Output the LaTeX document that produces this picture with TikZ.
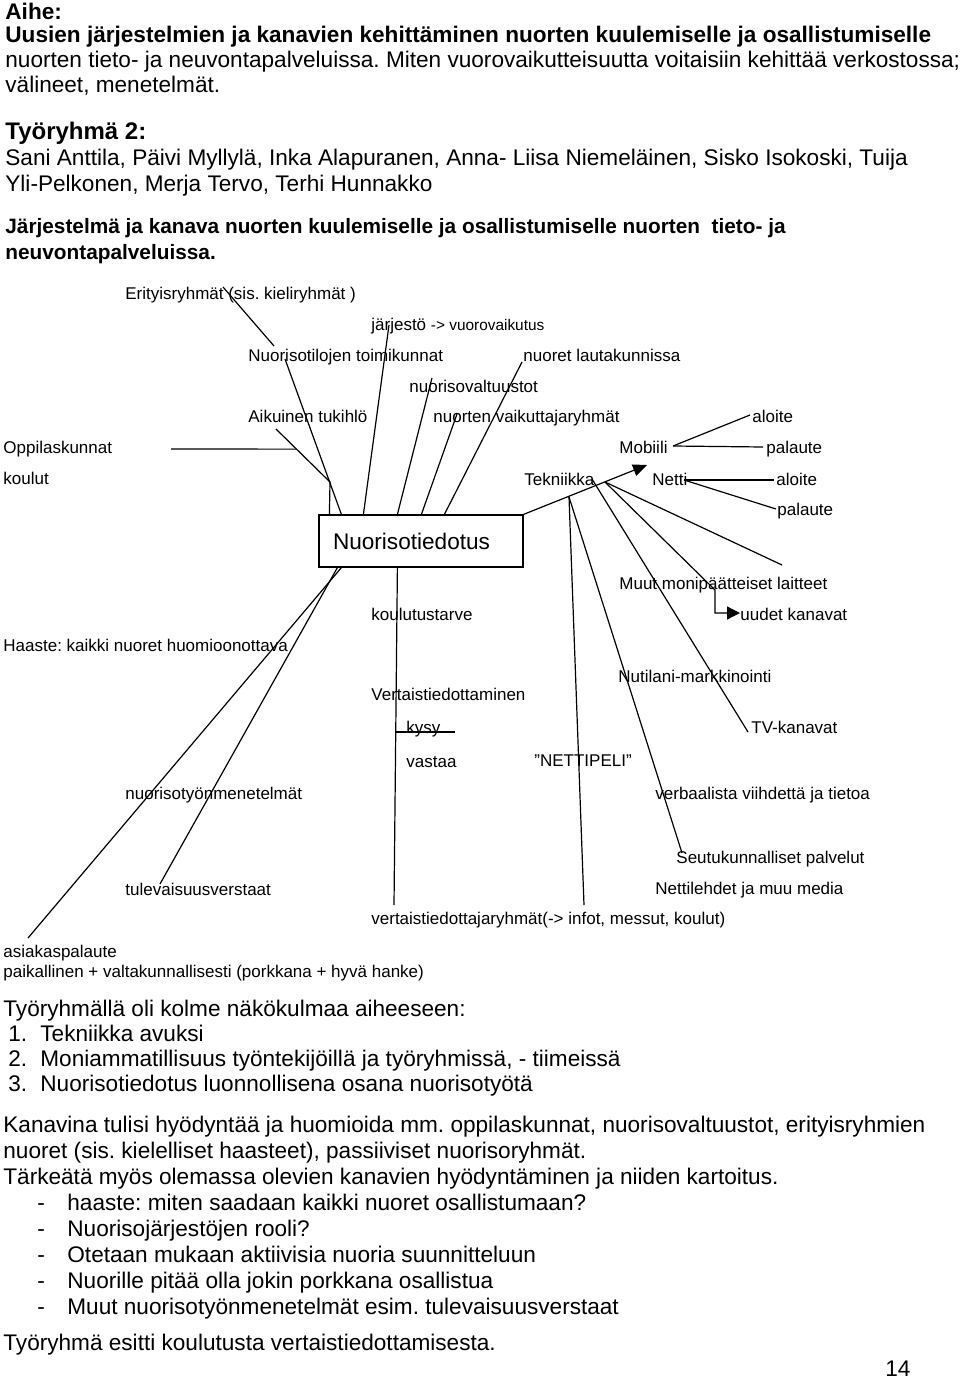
\documentclass[tikz,border=0pt]{standalone}
\usepackage{fontspec}
\setmainfont{Liberation Sans}
\usetikzlibrary{calc,arrows.meta}
\frenchspacing
\tikzset{
  body/.style={anchor=west,inner sep=0,text height=8.1pt,text depth=0pt,font=\fontsize{11.3}{13}\selectfont},
  bodybf/.style={body,font=\fontsize{11.3}{13}\selectfont\bfseries},
  headbf/.style={body,font=\fontsize{12}{14}\selectfont\bfseries},
  titlebf/.style={body,text height=7.4pt,font=\fontsize{10.4}{12}\selectfont\bfseries},
  lab/.style={anchor=west,inner sep=0,text height=6.1pt,text depth=0pt,font=\fontsize{8.5}{10}\selectfont},
  topic/.style={draw,line width=0.6pt,inner xsep=7pt,inner ysep=0pt,text width=88pt,minimum height=26pt,
                align=left,font=\fontsize{11.3}{13}\selectfont},
  link/.style={line width=0.6pt},
  arrow/.style={link,-{Triangle[length=7pt,width=6pt]}},
}
\begin{document}
\begin{tikzpicture}[x=0.5pt,y=-0.5pt]
  \useasboundingbox (0,0) rectangle (960,1380);
  % header
  \node[bodybf] (aihe) at (5,11) {Aihe:};
  \node[bodybf] (aihe1) at (5,34) {Uusien järjestelmien ja kanavien kehittäminen nuorten kuulemiselle ja osallistumiselle};
  \node[body] (aihe2) at (5,59) {nuorten tieto- ja neuvontapalveluissa. Miten vuorovaikutteisuutta voitaisiin kehittää verkostossa;};
  \node[body] (aihe3) at (5,84) {välineet, menetelmät.};
  \node[headbf] (ryhma) at (5,131) {Työryhmä 2:};
  \node[body] (ryhma1) at (5,157) {Sani Anttila, Päivi Myllylä, Inka Alapuranen, Anna- Liisa Niemeläinen, Sisko Isokoski, Tuija};
  \node[body] (ryhma2) at (5,183) {Yli-Pelkonen, Merja Tervo, Terhi Hunnakko};
  \node[titlebf] (otsikko1) at (5,226) {Järjestelmä ja kanava nuorten kuulemiselle ja osallistumiselle nuorten\ \ tieto- ja};
  \node[titlebf] (otsikko2) at (5,252) {neuvontapalveluissa.};

  % the box in the middle
  \node[topic] (box) at (421,541) {Nuorisotiedotus};

  % (1) channels above the box
  \node[lab] (erit) at (125,293) {Erityisryhmät (sis. kieliryhmät )};
  \node[lab] (jarj) at (371,324) {järjestö \fontsize{7.7}{9}\selectfont -> vuorovaikutus};
  \node[lab] (tilat) at (248,355) {Nuorisotilojen toimikunnat};
  \node[lab] (lauta) at (523,355) {nuoret lautakunnissa};
  \node[lab] (valt) at (409,386) {nuorisovaltuustot};
  \node[lab] (aikuinen) at (248,416) {Aikuinen tukihlö};
  \node[lab] (vaik) at (433,416) {nuorten vaikuttajaryhmät};
  \node[lab] (oppil) at (3,447) {Oppilaskunnat};
  \node[lab] (koulut) at (3,478) {koulut};
  \coordinate (eritA) at (223,287);  \coordinate (eritB) at (274,346);
  \coordinate (jarjA) at (389,325);  \coordinate (jarjB) at ($(box.north west)+(45,0)$);
  \coordinate (tilaA) at (285,359);  \coordinate (tilaB) at ($(box.north west)+(23,0)$);
  \coordinate (valtA) at (432,378);  \coordinate (valtB) at ($(box.north west)+(79,0)$);
  \coordinate (vaikA) at (457,414);  \coordinate (vaikB) at ($(box.north west)+(103,0)$);
  \coordinate (lautA) at (522,362);  \coordinate (lautB) at ($(box.north west)+(126,0)$);
  \coordinate (aikA) at (276,429);   \coordinate (aikB) at (330,482);
  \coordinate (aikC) at ($(box.north west)+(11,0)$);
  \coordinate (oppA) at (171,449);
  \draw[link] (eritA) -- (eritB);
  \draw[link] (jarjA) -- (jarjB);
  \draw[link] (tilaA) -- (tilaB);
  \draw[link] (valtA) -- (valtB);
  \draw[link] (vaikA) -- (vaikB);
  \draw[link] (lautA) -- (lautB);
  \draw[link] (aikA) -- (aikB) -- (aikC);
  \draw[link] (oppA) -- ($(aikA)!0.38!(aikB)$);

  % (2) technology on the right
  \node[lab] (tekn) at (524,479) {Tekniikka};
  \node[lab] (mob) at (619,447) {Mobiili};
  \node[lab] (netti) at (652,479) {Netti};
  \node[lab] (mobAl) at (752,416) {aloite};
  \node[lab] (mobPa) at (766,447) {palaute};
  \node[lab] (netAl) at (776,479) {aloite};
  \node[lab] (netPa) at (777,509) {palaute};
  \node[lab] (muut) at (619,583) {Muut monipäätteiset laitteet};
  \node[lab] (uudet) at (740,614) {uudet kanavat};
  \node[lab] (nutilani) at (618,676) {Nutilani-markkinointi};
  \node[lab] (tv) at (751,727) {TV-kanavat};
  \node[lab] (nettipeli) at (534,760) {”NETTIPELI”};
  \node[lab] (verb) at (655,793) {verbaalista viihdettä ja tietoa};
  \node[lab] (seutu) at (676,857) {Seutukunnalliset palvelut};
  \node[lab] (lehdet) at (655,888) {Nettilehdet ja muu media};
  \coordinate (mobT) at (647,465);
  \coordinate (hubA) at (569,497);
  \coordinate (hubT) at (605,482);
  \coordinate (mobH) at (673,446);
  \coordinate (netH) at (684,480);
  \coordinate (peliE) at (584,905);
  \coordinate (seutuE) at (682,853);
  \coordinate (tvA) at (592,479);   \coordinate (tvB) at (748,732);
  \coordinate (uudA) at (715,590);  \coordinate (uudB) at (715,613); \coordinate (uudC) at (740,613);
  \coordinate (laitE) at (782,565);
  \draw[arrow] (box.north east) -- (mobT);
  \draw[link] (hubA) -- (peliE);
  \draw[link] (hubA) -- (seutuE);
  \draw[link] (tvA) -- (tvB);
  \draw[link] (hubT) -- (laitE);
  \draw[link,-{Triangle[length=6.5pt,width=6.5pt]}] (hubT) -- (uudA) -- (uudB) -- (uudC);
  \draw[link] (mobH) -- (750,415);
  \draw[link] (mobH) -- (763,447);
  \draw[link] (netH) -- (774,480);
  \draw[link] (netH) -- (776,509);

  % (3) below the box
  \node[lab] (tarve) at (371,614) {koulutustarve};
  \node[lab] (haaste) at (3,645) {Haaste: kaikki nuoret huomioonottava};
  \node[lab] (vertais) at (371,694) {Vertaistiedottaminen};
  \node[lab] (kysy) at (406,727) {kysy};
  \node[lab] (vastaa) at (406,761) {vastaa};
  \node[lab] (menet) at (125,793) {nuorisotyönmenetelmät};
  \node[lab] (verstaat) at (125,889) {tulevaisuusverstaat};
  \node[lab] (vryhmat) at (371,918) {vertaistiedottajaryhmät(-> infot, messut, koulut)};
  \node[lab] (asiakas) at (3,951) {asiakaspalaute};
  \node[lab] (paik) at (3,971) {paikallinen + valtakunnallisesti (porkkana + hyvä hanke)};
  \coordinate (asA) at ($(box.south west)+(23,0)$);  \coordinate (asB) at (28,938);
  \coordinate (veA) at ($(box.south west)+(19,0)$);  \coordinate (veB) at (160,884);
  \coordinate (vtA) at ($(box.south west)+(79,0)$);  \coordinate (vtB) at (394,905);
  \coordinate (kysyA) at (396,732); \coordinate (kysyB) at (455,732);
  \draw[link] (asA) -- (asB);
  \draw[link] (veA) -- (veB);
  \draw[link] (vtA) -- (vtB);
  \draw[link] (kysyA) -- (kysyB);

  % text after the picture
  \node[body] (kolme) at (3,1008) {Työryhmällä oli kolme näkökulmaa aiheeseen:};
  \node[body] (n1) at (8,1033) {1.};
  \node[body] (k1) at (40,1033) {Tekniikka avuksi};
  \node[body] (n2) at (8,1058) {2.};
  \node[body] (k2) at (40,1058) {Moniammatillisuus työntekijöillä ja työryhmissä, - tiimeissä};
  \node[body] (n3) at (8,1083) {3.};
  \node[body] (k3) at (40,1083) {Nuorisotiedotus luonnollisena osana nuorisotyötä};
  \node[body] (kan1) at (3,1124) {Kanavina tulisi hyödyntää ja huomioida mm. oppilaskunnat, nuorisovaltuustot, erityisryhmien};
  \node[body] (kan2) at (3,1150) {nuoret (sis. kielelliset haasteet), passiiviset nuorisoryhmät.};
  \node[body] (kan3) at (3,1176) {Tärkeätä myös olemassa olevien kanavien hyödyntäminen ja niiden kartoitus.};
  \node[body] (d1) at (37,1202) {-};
  \node[body] (i1) at (67,1202) {haaste: miten saadaan kaikki nuoret osallistumaan?};
  \node[body] (d2) at (37,1228) {-};
  \node[body] (i2) at (67,1228) {Nuorisojärjestöjen rooli?};
  \node[body] (d3) at (37,1254) {-};
  \node[body] (i3) at (67,1254) {Otetaan mukaan aktiivisia nuoria suunnitteluun};
  \node[body] (d4) at (37,1280) {-};
  \node[body] (i4) at (67,1280) {Nuorille pitää olla jokin porkkana osallistua};
  \node[body] (d5) at (37,1306) {-};
  \node[body] (i5) at (67,1306) {Muut nuorisotyönmenetelmät esim. tulevaisuusverstaat};
  \node[body] (esitti) at (3,1342) {Työryhmä esitti koulutusta vertaistiedottamisesta.};
  \node[body] (sivu) at (885,1368) {14};
\end{tikzpicture}
\end{document}
